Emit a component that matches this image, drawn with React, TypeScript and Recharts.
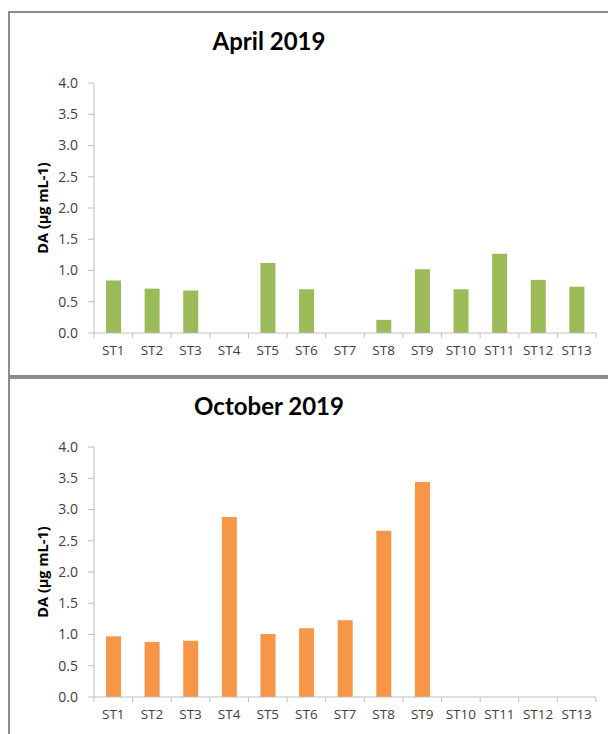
import { Bar, BarChart, XAxis, YAxis } from "recharts";

const stations = ["ST1", "ST2", "ST3", "ST4", "ST5", "ST6", "ST7", "ST8", "ST9", "ST10", "ST11", "ST12", "ST13"];
const aprilDA = [0.84, 0.71, 0.68, 0, 1.12, 0.7, 0, 0.21, 1.02, 0.7, 1.27, 0.85, 0.74];
const octoberDA = [0.97, 0.88, 0.9, 2.88, 1.01, 1.1, 1.23, 2.66, 3.44, 0, 0, 0, 0];
const yTicks = [0, 0.5, 1, 1.5, 2, 2.5, 3, 3.5, 4];

const FONT = "'Open Sans', sans-serif";
const TITLE_FONT = "Lato, 'Open Sans', sans-serif";
const CHART_W = 598;
const PLOT_LEFT = 84;
const PLOT_RIGHT = 12;
const BAND = (CHART_W - PLOT_LEFT - PLOT_RIGHT) / stations.length;

interface TickProps {
  x?: number;
  y?: number;
  index?: number;
  payload?: { value: string };
}

// Excel-style ticks: marks sit between categories, labels in the middle
function StationTick({ x = 0, y = 0, index = 0, payload }: TickProps) {
  const left = x - BAND / 2;
  return (
    <g>
      <line x1={left} y1={y} x2={left} y2={y + 5} stroke="#bfbfbf" />
      {index === stations.length - 1 && (
        <line x1={x + BAND / 2} y1={y} x2={x + BAND / 2} y2={y + 5} stroke="#bfbfbf" />
      )}
      <text x={x} y={y + 22} textAnchor="middle" fontSize={13.5} fill="#404040" fontFamily={FONT}>
        {payload?.value}
      </text>
    </g>
  );
}

interface PanelProps {
  title: string;
  values: number[];
  color: string;
  top: number;
  height: number;
  marginTop: number;
  titleTop: number;
  bottomBorder: boolean;
}

function Panel({ title, values, color, top, height, marginTop, titleTop, bottomBorder }: PanelProps) {
  const data = stations.map((s, i) => ({ station: s, da: values[i] }));
  return (
    <div
      style={{
        position: "absolute",
        left: 0,
        top,
        width: 600,
        height,
        boxSizing: "border-box",
        borderLeft: "2px solid #8c8c8c",
        borderTop: "2px solid #8c8c8c",
        borderBottom: bottomBorder ? "2px solid #8c8c8c" : "none",
        background: "#fff",
      }}
    >
      <div
        style={{
          position: "absolute",
          left: 159,
          width: 200,
          top: titleTop,
          textAlign: "center",
          fontFamily: TITLE_FONT,
          fontWeight: 700,
          fontSize: 24,
          color: "#000",
        }}
      >
        {title}
      </div>
      <div
        style={{
          position: "absolute",
          left: 33 - 60,
          top: marginTop + 125 - 10,
          width: 120,
          height: 20,
          lineHeight: "20px",
          textAlign: "center",
          transform: "rotate(-90deg)",
          fontFamily: FONT,
          fontWeight: 700,
          fontSize: 14.5,
          color: "#000",
          whiteSpace: "nowrap",
        }}
      >
        DA (μg mL-1)
      </div>
      <BarChart
        width={CHART_W}
        height={marginTop + 250 + 30}
        data={data}
        margin={{ top: marginTop, right: PLOT_RIGHT, left: 0, bottom: 0 }}
        barSize={15}
      >
        <XAxis
          dataKey="station"
          interval={0}
          height={30}
          stroke="#bfbfbf"
          tickLine={false}
          tickSize={0}
          tickMargin={0}
          tick={<StationTick />}
        />
        <YAxis
          width={PLOT_LEFT}
          domain={[0, 4]}
          ticks={yTicks}
          interval={0}
          stroke="#bfbfbf"
          tickSize={6}
          tickMargin={10}
          tickFormatter={(v: number) => v.toFixed(1)}
          tick={{ fontSize: 14, fill: "#404040", fontFamily: FONT }}
        />
        <Bar dataKey="da" fill={color} isAnimationActive={false} />
      </BarChart>
    </div>
  );
}

export default function App() {
  return (
    <div style={{ position: "fixed", left: 8, top: 8, width: 600, height: 726, overflow: "hidden", background: "#fff" }}>
      <Panel
        title="April 2019"
        values={aprilDA}
        color="#9bbb59"
        top={3}
        height={366}
        marginTop={70}
        titleTop={13}
        bottomBorder
      />
      <Panel
        title="October 2019"
        values={octoberDA}
        color="#f79646"
        top={369}
        height={400}
        marginTop={68}
        titleTop={12}
        bottomBorder={false}
      />
    </div>
  );
}
